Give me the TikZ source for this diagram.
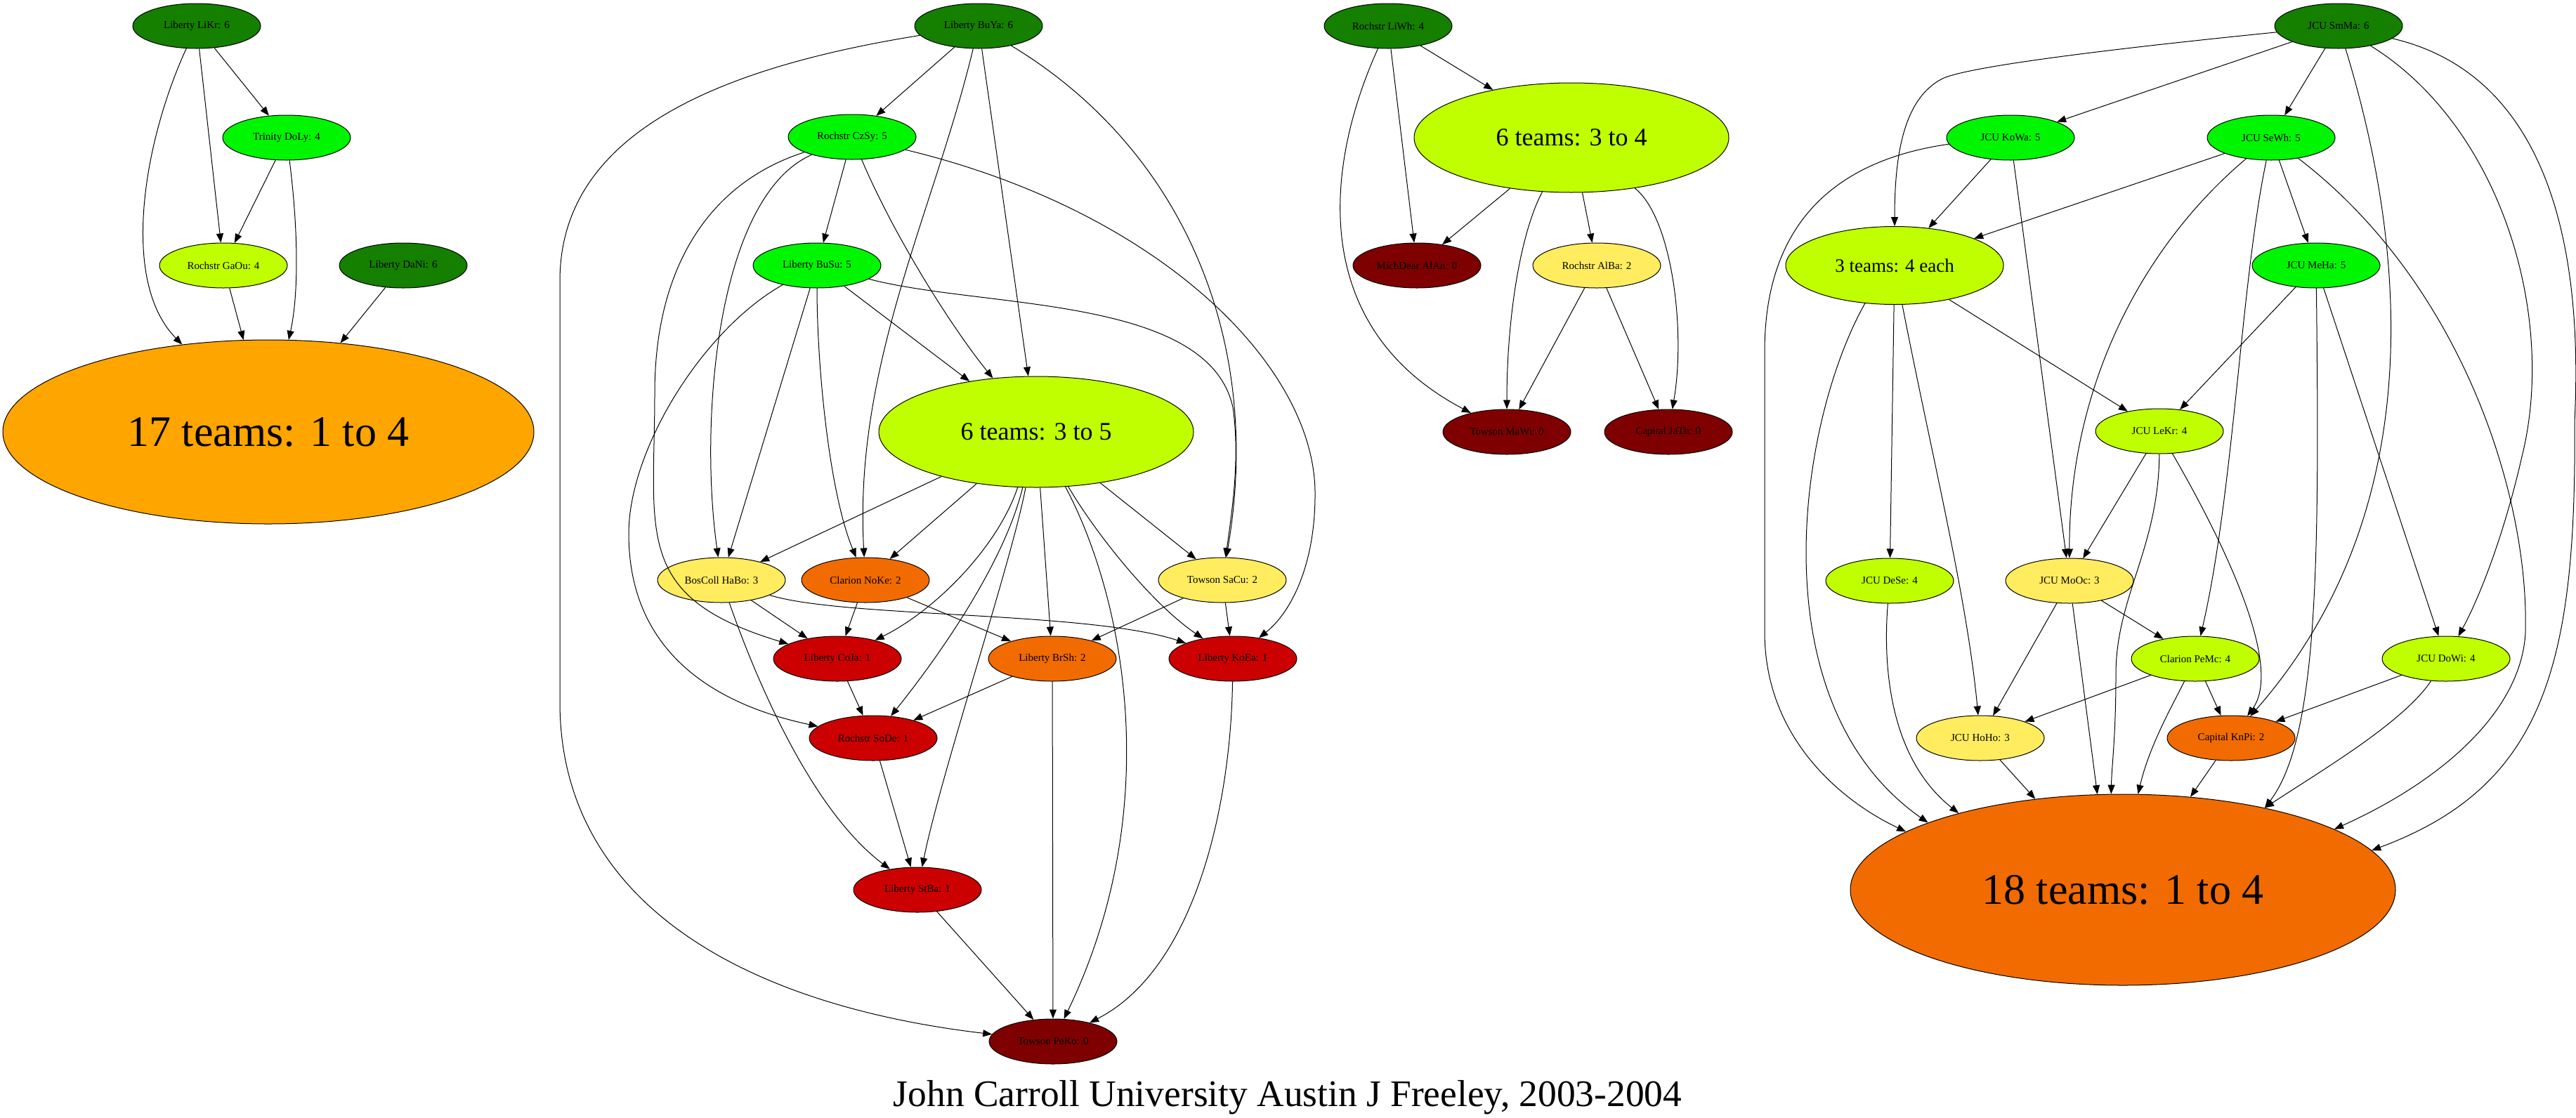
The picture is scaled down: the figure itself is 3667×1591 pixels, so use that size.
\documentclass[tikz,border=0pt]{standalone}
\usepackage{fontspec}
\setmainfont{Liberation Serif}
\usetikzlibrary{shapes.geometric,arrows.meta}
\definecolor{cDG}{RGB}{21,127,0}
\definecolor{cG}{RGB}{0,245,0}
\definecolor{cYG}{RGB}{191,255,0}
\definecolor{cY}{RGB}{255,236,95}
\definecolor{cOr}{RGB}{242,107,0}
\definecolor{cAmber}{RGB}{255,165,0}
\definecolor{cR}{RGB}{204,0,0}
\definecolor{cDR}{RGB}{127,0,0}
\tikzset{
  tm/.style={ellipse, draw=black, line width=1pt, minimum width=182pt, minimum height=64pt, inner sep=0pt, font=\fontsize{15}{18}\selectfont},
  big/.style={ellipse, draw=black, line width=1pt, inner sep=0pt},
  e/.style={line width=1pt, -{Triangle[length=13pt,width=10pt]}},
}
\begin{document}
\begin{tikzpicture}[x=1pt,y=-1pt]
\useasboundingbox (0,0) rectangle (3667,1591);
\fill[white] (0,0) rectangle (3667,1591);
% left cluster
\node[tm, fill=cDG] (LiKr) at (280,37) {Liberty LiKr: 6};
\node[tm, fill=cG] (DoLy) at (408,196) {Trinity DoLy: 4};
\node[tm, fill=cYG] (GaOu) at (318,378) {Rochstr GaOu: 4};
\node[tm, fill=cDG] (DaNi) at (574,378) {Liberty DaNi: 6};
\node[big, fill=cAmber, minimum width=756pt, minimum height=262pt, font=\fontsize{62}{70}\selectfont] (T17) at (382,615) {17 teams: 1 to 4};
% middle cluster
\node[tm, fill=cDG] (BuYa) at (1393,37) {Liberty BuYa: 6};
\node[tm, fill=cG] (CzSy) at (1213,195) {Rochstr CzSy: 5};
\node[tm, fill=cG] (BuSu) at (1163,378) {Liberty BuSu: 5};
\node[big, fill=cYG, minimum width=448pt, minimum height=158pt, font=\fontsize{36}{42}\selectfont] (T635) at (1475,615) {6 teams: 3 to 5};
\node[tm, fill=cY] (HaBo) at (1027,826) {BosColl HaBo: 3};
\node[tm, fill=cOr] (NoKe) at (1232,826) {Clarion NoKe: 2};
\node[tm, fill=cY] (SaCu) at (1740,826) {Towson SaCu: 2};
\node[tm, fill=cR] (CoJa) at (1192,938) {Liberty CoJa: 1};
\node[tm, fill=cOr] (BrSh) at (1498,938) {Liberty BrSh: 2};
\node[tm, fill=cR] (KoEa) at (1755,938) {Liberty KoEa: 1};
\node[tm, fill=cR] (SoDe) at (1243,1051) {Rochstr SoDe: 1};
\node[tm, fill=cR] (StBa) at (1306,1267) {Liberty StBa: 1};
\node[tm, fill=cDR] (PeKo) at (1499,1483) {Towson PeKo: 0};
% rochstr cluster
\node[tm, fill=cDG] (LiWh) at (1976,37) {Rochstr LiWh: 4};
\node[big, fill=cYG, minimum width=448pt, minimum height=156pt, font=\fontsize{36}{42}\selectfont] (T634) at (2237,196) {6 teams: 3 to 4};
\node[tm, fill=cDR] (AlAn) at (2017,378) {MichDear AlAn: 0};
\node[tm, fill=cY] (AlBa) at (2273,378) {Rochstr AlBa: 2};
\node[tm, fill=cDR] (MaWi) at (2145,615) {Towson MaWi: 0};
\node[tm, fill=cDR] (JaTh) at (2375,615) {Capital JaTh: 0};
% right cluster
\node[tm, fill=cDG] (SmMa) at (3329,37) {JCU SmMa: 6};
\node[tm, fill=cG] (KoWa) at (2862,196) {JCU KoWa: 5};
\node[tm, fill=cG] (SeWh) at (3233,196) {JCU SeWh: 5};
\node[tm, fill=cG] (MeHa) at (3297,378) {JCU MeHa: 5};
\node[big, fill=cYG, minimum width=310pt, minimum height=111pt, font=\fontsize{27}{32}\selectfont] (T3) at (2697,378) {3 teams: 4 each};
\node[tm, fill=cYG] (LeKr) at (3074,614) {JCU LeKr: 4};
\node[tm, fill=cYG] (DeSe) at (2690,827) {JCU DeSe: 4};
\node[tm, fill=cY] (MoOc) at (2946,827) {JCU MoOc: 3};
\node[tm, fill=cYG] (PeMc) at (3125,938) {Clarion PeMc: 4};
\node[tm, fill=cYG] (DoWi) at (3482,938) {JCU DoWi: 4};
\node[tm, fill=cY] (HoHo) at (2819,1051) {JCU HoHo: 3};
\node[tm, fill=cOr] (KnPi) at (3176,1051) {Capital KnPi: 2};
\node[big, fill=cOr, minimum width=776pt, minimum height=272pt, font=\fontsize{62}{70}\selectfont] (T18) at (3022,1267) {18 teams: 1 to 4};
% title
\node[anchor=base, font=\fontsize{53.4}{60}\selectfont, inner sep=0pt] (title) at (1833,1575) {John Carroll University Austin J Freeley, 2003-2004};

% ---- edges left
\draw[e] (LiKr) -- (DoLy);
\draw[e] (LiKr) -- (GaOu);
\draw[e] (LiKr) .. controls (205,200) and (170,400) .. (T17);
\draw[e] (DoLy) -- (GaOu);
\draw[e] (DoLy) .. controls (425,330) and (425,420) .. (T17);
\draw[e] (GaOu) -- (T17);
\draw[e] (DaNi) -- (T17);
% ---- edges middle
\draw[e] (BuYa) -- (CzSy);
\draw[e] (BuYa) .. controls (1000,100) and (797,200) .. (797,400) -- (797,1000) .. controls (797,1280) and (1050,1430) .. (PeKo);
\draw[e] (BuYa) .. controls (1330,300) and (1215,520) .. (NoKe);
\draw[e] (BuYa) -- (T635);
\draw[e] (BuYa) .. controls (1680,210) and (1800,480) .. (SaCu);
\draw[e] (CzSy) -- (BuSu);
\draw[e] (CzSy) .. controls (1020,280) and (995,600) .. (HaBo);
\draw[e] (CzSy) .. controls (1010,260) and (932,380) .. (932,560) .. controls (932,760) and (900,850) .. (CoJa);
\draw[e] (CzSy) .. controls (1270,330) and (1350,460) .. (T635);
\draw[e] (CzSy) .. controls (1650,300) and (1870,520) .. (1872,700) .. controls (1873,800) and (1840,870) .. (KoEa);
\draw[e] (BuSu) -- (HaBo);
\draw[e] (BuSu) .. controls (1163,520) and (1180,700) .. (NoKe);
\draw[e] (BuSu) -- (T635);
\draw[e] (BuSu) .. controls (1400,440) and (1720,420) .. (1755,580) .. controls (1765,650) and (1755,720) .. (SaCu);
\draw[e] (BuSu) .. controls (1000,470) and (895,640) .. (895,760) .. controls (895,950) and (1050,1010) .. (SoDe);
\draw[e] (T635) -- (HaBo);
\draw[e] (T635) -- (NoKe);
\draw[e] (T635) -- (SaCu);
\draw[e] (T635) .. controls (1420,780) and (1330,870) .. (CoJa);
\draw[e] (T635) .. controls (1430,800) and (1340,930) .. (SoDe);
\draw[e] (T635) .. controls (1440,800) and (1340,1100) .. (StBa);
\draw[e] (T635) -- (BrSh);
\draw[e] (T635) .. controls (1600,850) and (1660,1150) .. (PeKo);
\draw[e] (T635) .. controls (1560,760) and (1640,860) .. (KoEa);
\draw[e] (HaBo) -- (CoJa);
\draw[e] (HaBo) .. controls (1070,950) and (1150,1150) .. (StBa);
\draw[e] (HaBo) .. controls (1200,880) and (1550,870) .. (KoEa);
\draw[e] (NoKe) -- (CoJa);
\draw[e] (NoKe) -- (BrSh);
\draw[e] (SaCu) -- (BrSh);
\draw[e] (SaCu) -- (KoEa);
\draw[e] (CoJa) -- (SoDe);
\draw[e] (BrSh) -- (SoDe);
\draw[e] (BrSh) -- (PeKo);
\draw[e] (KoEa) .. controls (1752,1150) and (1700,1380) .. (PeKo);
\draw[e] (SoDe) -- (StBa);
\draw[e] (StBa) -- (PeKo);
% ---- edges rochstr
\draw[e] (LiWh) -- (T634);
\draw[e] (LiWh) -- (AlAn);
\draw[e] (LiWh) .. controls (1880,250) and (1870,470) .. (MaWi);
\draw[e] (T634) -- (AlAn);
\draw[e] (T634) -- (AlBa);
\draw[e] (T634) .. controls (2165,330) and (2145,450) .. (MaWi);
\draw[e] (T634) .. controls (2380,310) and (2400,470) .. (JaTh);
\draw[e] (AlBa) -- (MaWi);
\draw[e] (AlBa) -- (JaTh);
% ---- edges right
\draw[e] (SmMa) .. controls (3000,70) and (2800,95) .. (2765,112) .. controls (2710,140) and (2697,220) .. (T3);
\draw[e] (SmMa) -- (KoWa);
\draw[e] (SmMa) -- (SeWh);
\draw[e] (SmMa) .. controls (3440,400) and (3440,750) .. (KnPi);
\draw[e] (SmMa) .. controls (3560,180) and (3640,450) .. (3590,650) .. controls (3565,760) and (3530,850) .. (DoWi);
\draw[e] (SmMa) .. controls (3600,100) and (3680,300) .. (3665,600) .. controls (3668,950) and (3620,1120) .. (T18.9);
\draw[e] (SeWh) -- (MeHa);
\draw[e] (SeWh) -- (T3);
\draw[e] (SeWh) .. controls (3050,350) and (2945,550) .. (MoOc);
\draw[e] (SeWh) .. controls (3190,400) and (3180,700) .. (PeMc);
\draw[e] (SeWh) .. controls (3500,400) and (3600,700) .. (3595,900) .. controls (3590,1010) and (3480,1110) .. (T18.16);
\draw[e] (KoWa) -- (T3);
\draw[e] (KoWa) -- (MoOc);
\draw[e] (KoWa.186) .. controls (2600,230) and (2512,330) .. (2512,500) -- (2512,900) .. controls (2512,1050) and (2620,1140) .. (T18.165);
\draw[e] (MeHa) -- (LeKr);
\draw[e] (MeHa) -- (DoWi);
\draw[e] (MeHa) .. controls (3302,800) and (3300,1050) .. (T18.30);
\draw[e] (T3) -- (LeKr);
\draw[e] (T3) -- (DeSe);
\draw[e] (T3) .. controls (2750,650) and (2800,850) .. (HoHo);
\draw[e] (T3.232) .. controls (2560,600) and (2500,1000) .. (T18.161);
\draw[e] (LeKr) -- (MoOc);
\draw[e] (LeKr) .. controls (3170,780) and (3250,950) .. (KnPi);
\draw[e] (LeKr) .. controls (3073,780) and (3012,850) .. (3012,960) .. controls (3012,1050) and (3006,1090) .. (T18.97);
\draw[e] (MoOc) -- (HoHo);
\draw[e] (MoOc) -- (PeMc);
\draw[e] (MoOc) -- (T18.105);
\draw[e] (PeMc) -- (HoHo);
\draw[e] (PeMc) -- (KnPi);
\draw[e] (PeMc) .. controls (3095,1000) and (3060,1060) .. (T18.81);
\draw[e] (DoWi) -- (KnPi);
\draw[e] (DoWi) .. controls (3420,1030) and (3300,1100) .. (T18.30);
\draw[e] (HoHo) -- (T18.134);
\draw[e] (KnPi) -- (T18.54);
\draw[e] (DeSe) .. controls (2680,950) and (2690,1080) .. (T18.155);
\end{tikzpicture}
\end{document}
